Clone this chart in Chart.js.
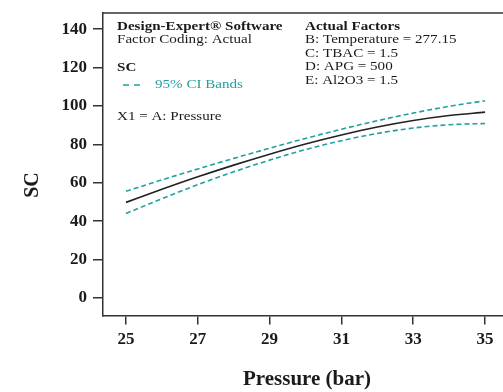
<!DOCTYPE html>
<html>
<head>
<meta charset="utf-8">
<script src="https://cdn.jsdelivr.net/npm/chart.js@4.4.1/dist/chart.umd.min.js"></script>
<style>
  html, body { margin: 0; padding: 0; background: #ffffff; }
  #wrap { width: 503px; height: 392px; position: relative; }
</style>
</head>
<body>
<div id="wrap"><canvas id="chart" width="503" height="392"></canvas></div>
<script>
// Pressure (bar) sample points
const pressure = [25, 26, 27, 28, 29, 30, 31, 32, 33, 34, 35];
// Predicted SC
const scPredicted = [49.8, 56.6, 63.1, 69.2, 74.9, 80.2, 84.9, 89.0, 92.4, 95.0, 96.8];
// 95% confidence interval bounds
const ciUpper = [55.6, 61.5, 67.2, 72.7, 78.0, 83.1, 87.9, 92.3, 96.3, 99.8, 102.7];
const ciLower = [44.0, 51.7, 59.0, 65.7, 71.8, 77.3, 81.9, 85.7, 88.5, 90.2, 90.9];
// Axis tick labels
const xTicks = [25, 27, 29, 31, 33, 35];
const yTicks = [0, 20, 40, 60, 80, 100, 120, 140];

const SERIF = '"Liberation Serif", "Times New Roman", serif';
const TEAL = '#22a0a0';
const INK = '#1a1a1a';
const FRAME = '#333333';

const toPoints = ys => pressure.map((p, i) => ({ x: p, y: ys[i] }));

// Slightly widened serif text, as printed by the design software
function wideText(ctx, text, x, y, stretch) {
  ctx.save();
  ctx.translate(x, y);
  ctx.scale(stretch, 1);
  ctx.fillText(text, 0, 0);
  ctx.restore();
}

// Frame top, axis titles and the info text blocks
const annotations = {
  id: 'annotations',
  afterDraw(chart) {
    const ctx = chart.ctx;
    const area = chart.chartArea;
    ctx.save();
    // top border of the frame
    ctx.strokeStyle = FRAME;
    ctx.lineWidth = 1.5;
    ctx.beginPath();
    ctx.moveTo(area.left, area.top);
    ctx.lineTo(area.right, area.top);
    ctx.stroke();

    // axis titles
    ctx.fillStyle = INK;
    ctx.textAlign = 'center';
    ctx.textBaseline = 'middle';
    ctx.font = 'bold 21px ' + SERIF;
    ctx.fillText('Pressure (bar)', 307, 380);
    ctx.save();
    ctx.translate(33, 185);
    ctx.rotate(-Math.PI / 2);
    ctx.font = 'bold 20px ' + SERIF;
    ctx.fillText('SC', 0, 0);
    ctx.restore();

    const s = 1.16;
    ctx.textAlign = 'left';
    ctx.font = 'bold 13px ' + SERIF;
    wideText(ctx, 'Design-Expert\u00AE Software', 117, 27, s);
    wideText(ctx, 'SC', 117, 68, s);
    wideText(ctx, 'Actual Factors', 305, 27, s);
    ctx.font = '13px ' + SERIF;
    wideText(ctx, 'Factor Coding: Actual', 117, 40, s);
    wideText(ctx, 'X1 = A: Pressure', 117, 117, s);
    wideText(ctx, 'B: Temperature = 277.15', 305, 40, s);
    wideText(ctx, 'C: TBAC = 1.5', 305, 53.5, s);
    wideText(ctx, 'D: APG = 500', 305, 67, s);
    wideText(ctx, 'E: Al2O3 = 1.5', 305, 80.5, s);

    ctx.fillStyle = TEAL;
    wideText(ctx, '95% CI Bands', 155, 85, s);
    ctx.strokeStyle = TEAL;
    ctx.lineWidth = 1.3;
    ctx.setLineDash([6, 5]);
    ctx.beginPath();
    ctx.moveTo(123, 85);
    ctx.lineTo(145, 85);
    ctx.stroke();
    ctx.restore();
  }
};

new Chart(document.getElementById('chart'), {
  type: 'line',
  data: {
    datasets: [
      {
        label: 'SC',
        data: toPoints(scPredicted),
        borderColor: '#222222',
        borderWidth: 1.6,
        pointRadius: 0,
        cubicInterpolationMode: 'monotone'
      },
      {
        label: '95% CI Bands (upper)',
        data: toPoints(ciUpper),
        borderColor: TEAL,
        borderWidth: 1.6,
        borderDash: [5, 3],
        pointRadius: 0,
        cubicInterpolationMode: 'monotone'
      },
      {
        label: '95% CI Bands (lower)',
        data: toPoints(ciLower),
        borderColor: TEAL,
        borderWidth: 1.6,
        borderDash: [5, 3],
        pointRadius: 0,
        cubicInterpolationMode: 'monotone'
      }
    ]
  },
  options: {
    responsive: false,
    animation: false,
    events: [],
    layout: { padding: { top: 13, right: 0, left: 0, bottom: 0 } },
    plugins: {
      legend: { display: false },
      tooltip: { enabled: false },
      title: { display: false }
    },
    scales: {
      x: {
        type: 'linear',
        min: 24.36,
        max: 35.5,
        afterBuildTicks: axis => { axis.ticks = xTicks.map(v => ({ value: v })); },
        afterFit: axis => {
          axis.height = 76.5;
          axis.paddingLeft = 0;
          axis.paddingRight = 0;
        },
        grid: { drawOnChartArea: false, drawTicks: true, tickLength: 9, color: FRAME, lineWidth: 1.5 },
        border: { display: true, color: FRAME, width: 1.5 },
        ticks: {
          color: INK,
          padding: 5,
          maxRotation: 0,
          font: { family: SERIF, size: 17, weight: 'bold' }
        },
        title: { display: false }
      },
      y: {
        type: 'linear',
        min: -9.1,
        max: 148.4,
        afterBuildTicks: axis => { axis.ticks = yTicks.map(v => ({ value: v })); },
        afterFit: axis => {
          axis.width = 103;
          axis.paddingTop = 0;
          axis.paddingBottom = 0;
        },
        grid: { drawOnChartArea: false, drawTicks: true, tickLength: 10, color: FRAME, lineWidth: 1.5 },
        border: { display: true, color: FRAME, width: 1.5 },
        ticks: {
          color: INK,
          padding: 6,
          font: { family: SERIF, size: 17, weight: 'bold' }
        },
        title: { display: false }
      }
    }
  },
  plugins: [annotations]
});
</script>
</body>
</html>
